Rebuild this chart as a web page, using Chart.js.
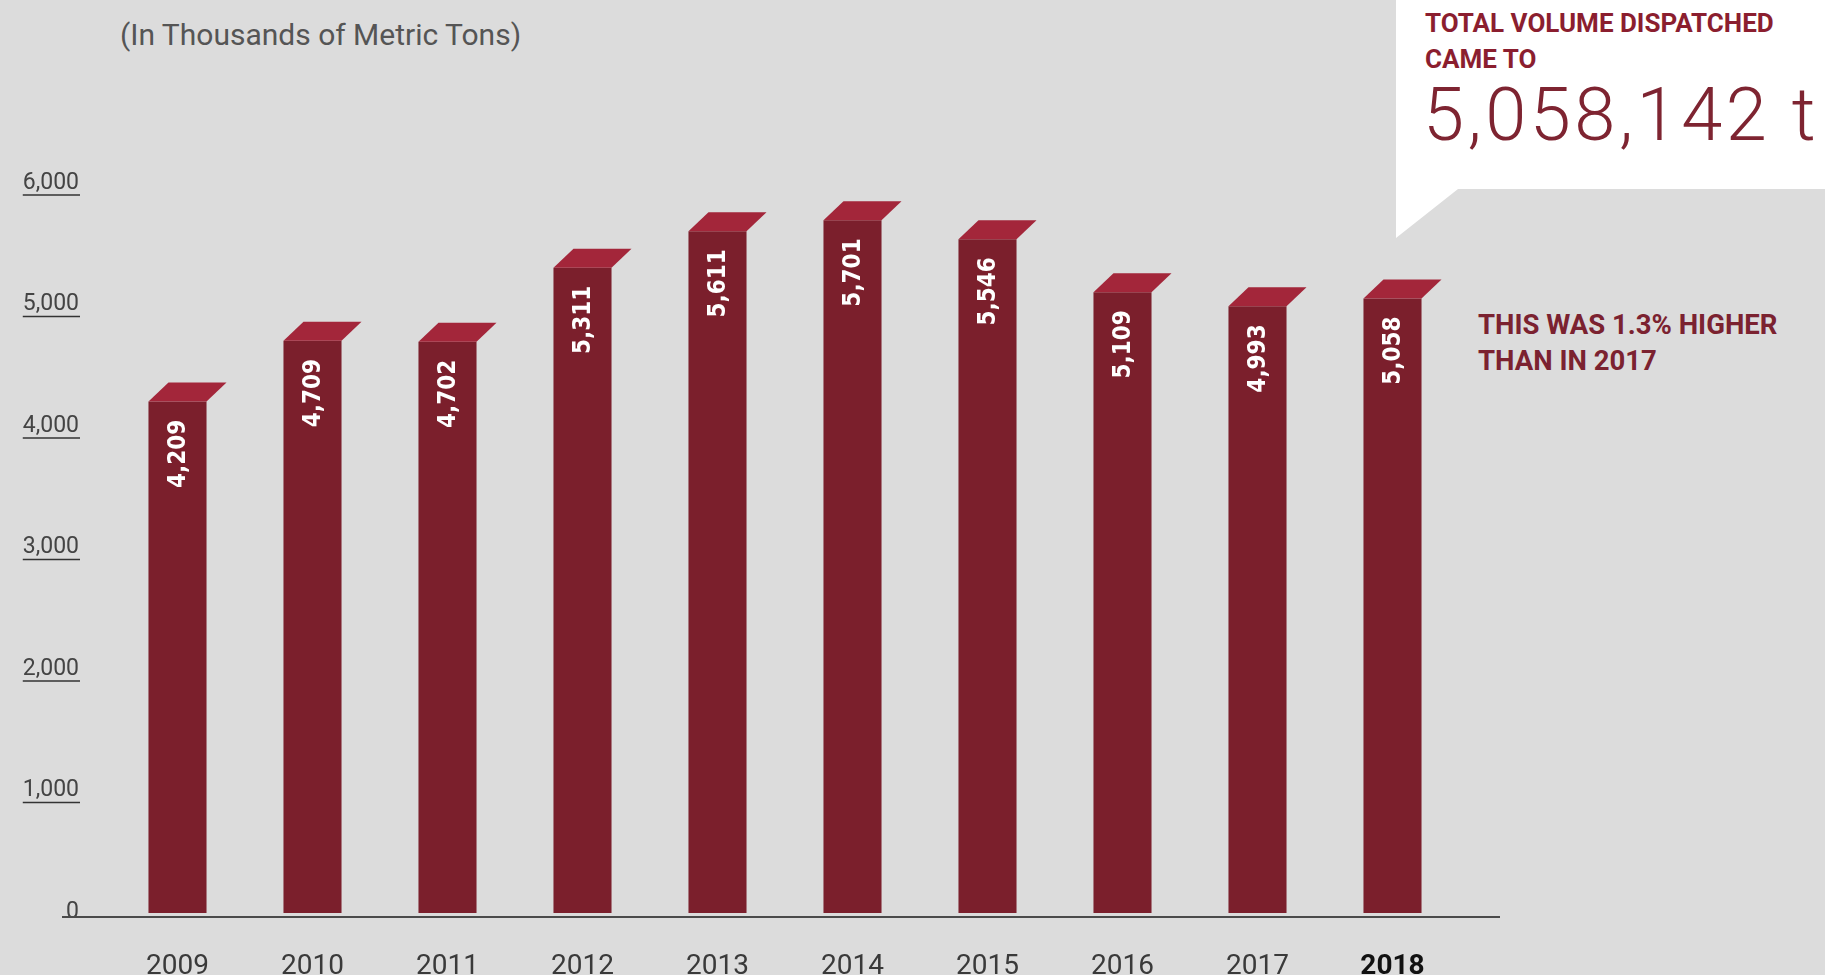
<!DOCTYPE html>
<html>
<head>
<meta charset="utf-8">
<script src="https://cdn.jsdelivr.net/npm/chart.js@4"></script>
<style>
    body { margin: 0; background: #dcdcdc; }
    #wrap { position: relative; width: 1825px; height: 975px; overflow: hidden; }
    #wrap canvas { position: absolute; left: 0; top: 0; }
    .note { position: absolute; font-family: Roboto, sans-serif; white-space: nowrap; }
    #unit { left: 120px; top: 17px; font-size: 30px; color: #555; }
    #callout {
        position: absolute; left: 1396px; top: 0; width: 429px; height: 238px; background: #fff;
        clip-path: polygon(0 0, 100% 0, 100% 189px, 62px 189px, 0 238px);
    }
    #total { left: 1425px; top: 5px; font-size: 26px; line-height: 36px; font-weight: 700; color: #8b1e2f; }
    #big { left: 1423px; top: 78px; font-size: 74px; line-height: 74px; font-weight: 300; color: #7e2431; letter-spacing: 3.5px; }
    #higher { left: 1478px; top: 307px; font-size: 27.5px; line-height: 36px; font-weight: 700; color: #7b2230; }
</style>
</head>
<body>
<div id="wrap">
    <div id="callout"></div>
    <div class="note" id="unit">(In Thousands of Metric Tons)</div>
    <div class="note" id="total">TOTAL VOLUME DISPATCHED<br>CAME TO</div>
    <div class="note" id="big">5,058,142 t</div>
    <div class="note" id="higher">THIS WAS 1.3% HIGHER<br>THAN IN 2017</div>
    <canvas id="chart" width="1825" height="975"></canvas>
</div>
<script>
const years = ['2009', '2010', '2011', '2012', '2013', '2014', '2015', '2016', '2017', '2018'];
const volumes = [4209, 4709, 4702, 5311, 5611, 5701, 5546, 5109, 4993, 5058];
const valueLabels = ['4,209', '4,709', '4,702', '5,311', '5,611', '5,701', '5,546', '5,109', '4,993', '5,058'];
const yTicks = [0, 1000, 2000, 3000, 4000, 5000, 6000];

const barColor = '#7b1f2c';
const topColor = '#a3263a';

// top face of each bar + the rotated value inside it
const barDecor = {
    id: 'barDecor',
    afterDatasetsDraw(chart) {
        const ctx = chart.ctx;
        const meta = chart.getDatasetMeta(0);
        const dx = 20, dy = 19;
        ctx.save();
        meta.data.forEach((bar, i) => {
            const l = bar.x - bar.width / 2, r = bar.x + bar.width / 2, t = bar.y;
            ctx.fillStyle = topColor;
            ctx.beginPath();
            ctx.moveTo(l, t);
            ctx.lineTo(l + dx, t - dy);
            ctx.lineTo(r + dx, t - dy);
            ctx.lineTo(r, t);
            ctx.closePath();
            ctx.fill();

            ctx.font = 'bold 24px "DejaVu Sans Condensed", "DejaVu Sans", sans-serif';
            const w = ctx.measureText(valueLabels[i]).width;
            ctx.save();
            ctx.translate(bar.x, t + 18 + w / 2);
            ctx.rotate(-Math.PI / 2);
            ctx.fillStyle = '#fff';
            ctx.textAlign = 'center';
            ctx.textBaseline = 'middle';
            ctx.fillText(valueLabels[i], 0, 1);
            ctx.restore();
        });
        ctx.restore();
    },
    afterDraw(chart) {
        const ctx = chart.ctx;
        const y = chart.scales.y;
        ctx.save();
        // base line
        const base = y.getPixelForValue(0) + 4;
        ctx.strokeStyle = '#4a4a4a';
        ctx.lineWidth = 2;
        ctx.beginPath();
        ctx.moveTo(62, base);
        ctx.lineTo(1500, base);
        ctx.stroke();
        // underlines under the tick labels
        ctx.font = '23px Roboto, sans-serif';
        ctx.lineWidth = 1.5;
        ctx.strokeStyle = '#333';
        y.ticks.forEach((tk, i) => {
            if (tk.value === 0) return;
            const py = y.getPixelForTick(i) + 11;
            const w = ctx.measureText(tk.label).width;
            ctx.beginPath();
            ctx.moveTo(79 - w, py);
            ctx.lineTo(80, py);
            ctx.stroke();
        });
        ctx.restore();
    }
};

new Chart(document.getElementById('chart'), {
    type: 'bar',
    data: {
        labels: years,
        datasets: [{
            data: volumes,
            backgroundColor: barColor,
            barPercentage: 0.43,
            categoryPercentage: 1
        }]
    },
    options: {
        responsive: false,
        animation: false,
        layout: {padding: {top: 184, right: 365, left: 0, bottom: 0}},
        plugins: {legend: {display: false}, tooltip: {enabled: false}},
        scales: {
            x: {
                grid: {display: false},
                border: {display: false},
                afterFit: s => { s.height = 62 },
                ticks: {
                    padding: 29,
                    color: ctx => ctx.index === 9 ? '#111' : '#3a3a3a',
                    font: ctx => ({family: 'Roboto, sans-serif', size: 28, weight: ctx.index === 9 ? 'bold' : 'normal'})
                }
            },
            y: {
                min: 0,
                max: 6000,
                grid: {display: false},
                border: {display: false},
                afterFit: s => { s.width = 110 },
                afterBuildTicks: s => { s.ticks = yTicks.map(v => ({value: v})) },
                ticks: {
                    padding: 23,
                    labelOffset: -1,
                    color: '#444',
                    font: {family: 'Roboto, sans-serif', size: 23},
                    callback: v => v.toLocaleString('en-US')
                }
            }
        }
    },
    plugins: [barDecor]
});
</script>
</body>
</html>
